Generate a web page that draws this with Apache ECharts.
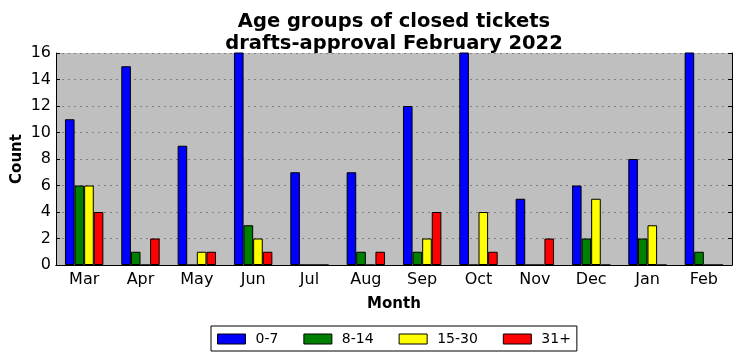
<!DOCTYPE html>
<html><head><meta charset="utf-8">
<script src="https://cdn.jsdelivr.net/npm/echarts@6/dist/echarts.min.js"></script>
<style>html,body{margin:0;padding:0;background:#fff}#c{width:741px;height:361px}</style>
</head><body><div id="c"></div>
<script>
const months = ['Mar','Apr','May','Jun','Jul','Aug','Sep','Oct','Nov','Dec','Jan','Feb'];
const seriesNames = ['0-7','8-14','15-30','31+'];
const s0_7   = [11, 15, 9, 17, 7, 7, 12, 17, 5, 6, 8, 17];
const s8_14  = [6, 1, 0, 3, 0, 1, 1, 0, 0, 2, 2, 1];
const s15_30 = [6, 0, 1, 2, 0, 0, 2, 4, 0, 5, 3, 0];
const s31p   = [4, 2, 1, 1, 0, 1, 4, 1, 2, 0, 0, 0];
const yTicks = [0, 2, 4, 6, 8, 10, 12, 14, 16];
const colors = ['#0000ff', '#008000', '#ffff00', '#ff0000'];

const font = 'DejaVu Sans';
const chart = echarts.init(document.getElementById('c'));
const mkSeries = (name, data, color) => ({
  name, type: 'bar', data, barWidth: 9.6, barGap: '0%', clip: true,
  itemStyle: { color, borderColor: '#000', borderWidth: 1 },
  xAxisIndex: 0, yAxisIndex: 0
});
chart.setOption({
  animation: false,
  title: {
    text: 'Age groups of closed tickets\ndrafts-approval February 2022',
    left: 389, textAlign: 'center', top: 6,
    textStyle: { fontFamily: font, fontWeight: 'bold', fontSize: 19.5, color: '#000', lineHeight: 22 }
  },
  grid: { left: 56, right: 9, top: 53, bottom: 96, backgroundColor: '#bfbfbf', show: true, borderWidth: 0,
    containLabel: false, outerBoundsMode: 'none' },
  legend: {
    left: 211, top: 326, padding: [6, 6, 5, 6],
    borderColor: '#000', borderWidth: 1, borderRadius: 0,
    icon: 'rect', itemWidth: 28, itemHeight: 10, itemGap: 25,
    itemStyle: { borderColor: '#000', borderWidth: 1 },
    textStyle: { fontFamily: font, fontSize: 14, color: '#000', padding: [0, 0, 0, 5] },
    data: seriesNames
  },
  xAxis: [{
    type: 'category', data: months, position: 'bottom',
    name: 'Month', nameLocation: 'middle', nameGap: 32,
    nameTextStyle: { fontFamily: font, fontWeight: 'bold', fontSize: 15, color: '#000' },
    axisLine: { lineStyle: { color: '#000', width: 1 } },
    axisTick: { alignWithLabel: true, inside: true, length: 4, lineStyle: { color: '#000' } },
    axisLabel: { fontFamily: font, fontSize: 16, color: '#000', margin: 7 }
  }, {
    type: 'category', data: months, position: 'top',
    axisLine: { lineStyle: { color: '#000', width: 1 } },
    axisTick: { alignWithLabel: true, inside: true, length: 4, lineStyle: { color: '#000' } },
    axisLabel: { show: false }
  }],
  yAxis: [{
    type: 'value', min: 0, max: 16, interval: 2, position: 'left',
    name: 'Count', nameLocation: 'middle', nameGap: 31, nameRotate: 90, nameMoveOverlap: false,
    nameTextStyle: { fontFamily: font, fontWeight: 'bold', fontSize: 15, color: '#000' },
    axisLine: { show: true, lineStyle: { color: '#000', width: 1 } },
    axisTick: { show: true, inside: true, length: 4, lineStyle: { color: '#000' } },
    axisLabel: { fontFamily: font, fontSize: 16, color: '#000', margin: 5,
      formatter: v => yTicks.includes(v) ? String(v) : '' },
    splitLine: { show: true, lineStyle: { color: '#808080', type: [2, 4], width: 1 } }
  }, {
    type: 'value', min: 0, max: 16, interval: 2, position: 'right',
    axisLine: { show: true, lineStyle: { color: '#000', width: 1 } },
    axisTick: { show: true, inside: true, length: 4, lineStyle: { color: '#000' } },
    axisLabel: { show: false }, splitLine: { show: false }
  }],
  series: [
    mkSeries(seriesNames[0], s0_7, colors[0]),
    mkSeries(seriesNames[1], s8_14, colors[1]),
    mkSeries(seriesNames[2], s15_30, colors[2]),
    mkSeries(seriesNames[3], s31p, colors[3])
  ]
});
</script></body></html>
